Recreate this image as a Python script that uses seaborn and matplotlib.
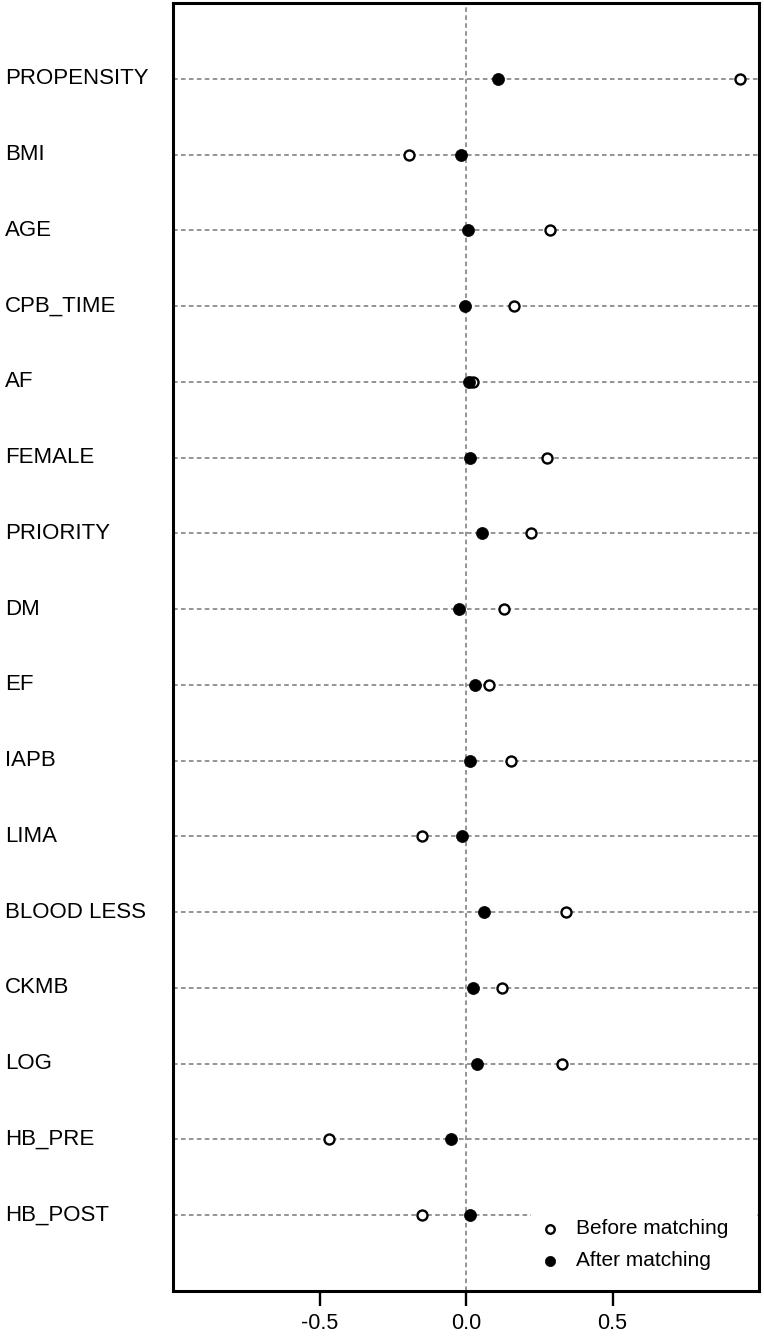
import matplotlib
matplotlib.use('Agg')
import matplotlib.pyplot as plt
import seaborn as sns
from matplotlib.ticker import FormatStrFormatter

variables = ['PROPENSITY', 'BMI', 'AGE', 'CPB_TIME', 'AF', 'FEMALE', 'PRIORITY', 'DM',
             'EF', 'IAPB', 'LIMA', 'BLOOD LESS', 'CKMB', 'LOG', 'HB_PRE', 'HB_POST']
before = [0.934, -0.194, 0.288, 0.165, 0.025, 0.278, 0.223, 0.131,
          0.080, 0.155, -0.149, 0.343, 0.124, 0.329, -0.467, -0.149]
after = [0.109, -0.016, 0.007, -0.002, 0.011, 0.015, 0.056, -0.023,
         0.032, 0.015, -0.013, 0.063, 0.025, 0.039, -0.050, 0.015]
x_ticks = [-0.5, 0.0, 0.5]

sns.set_style('white')
plt.rcParams['font.family'] = ['Liberation Sans', 'DejaVu Sans']
plt.rcParams['axes.unicode_minus'] = False
plt.rcParams['text.color'] = 'black'
plt.rcParams['xtick.color'] = 'black'
plt.rcParams['ytick.color'] = 'black'

fig = plt.figure(figsize=(7.64, 13.36), dpi=100)
ax = fig.add_axes([173 / 764, 45 / 1336, 586 / 764, 1288 / 1336])

# open circles = before, filled = after
sns.scatterplot(x=before, y=variables, ax=ax, s=52, facecolor='white', edgecolor='black',
                linewidth=1.7, label='Before matching', zorder=3)
sns.scatterplot(x=after, y=variables, ax=ax, s=75, color='black', edgecolor='black',
                linewidth=0.5, label='After matching', zorder=4)

# dotted guide lines for every row + zero line
for i in range(len(variables)):
    ax.axhline(i, color='#777777', ls=(0, (3, 2.2)), lw=1.1, zorder=1)
ax.axvline(0, color='#777777', ls=(0, (3, 2.2)), lw=1.1, zorder=1)

ax.set_xlim(-1, 1)
ax.set_ylim(len(variables), -1)
ax.set_xticks(x_ticks)
ax.xaxis.set_major_formatter(FormatStrFormatter('%.1f'))
ax.set_xlabel('')
ax.set_ylabel('')

ax.tick_params(axis='x', direction='out', length=11, width=1.7, pad=5,
               labelsize=15.5, color='black', labelcolor='black', bottom=True)
ax.tick_params(axis='y', length=0, pad=121, labelsize=16, labelcolor='black')
for lbl in ax.get_yticklabels():
    lbl.set_horizontalalignment('left')
    lbl.set_verticalalignment('center')

for sp in ax.spines.values():
    sp.set_visible(True)
    sp.set_color('black')
    sp.set_linewidth(2.2)

leg = ax.legend(loc='upper left', bbox_to_anchor=(0.611, 0.0, 0.385, 0.062),
                mode='expand', fontsize=15, frameon=True, fancybox=False,
                handlelength=1.0, handletextpad=0.75, borderpad=0.4,
                labelspacing=0.6, markerscale=0.85, borderaxespad=0)
leg.get_frame().set_facecolor('white')
leg.get_frame().set_edgecolor('none')
leg.get_frame().set_alpha(1)

fig.savefig('out.png', dpi=100)
